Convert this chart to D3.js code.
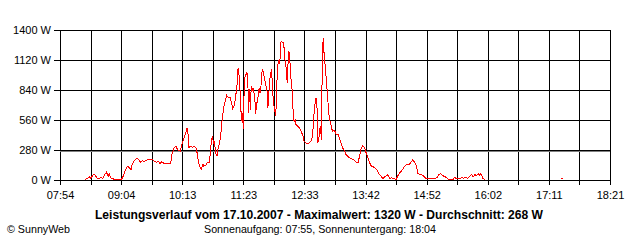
<!DOCTYPE html>
<html>
<head>
<meta charset="utf-8">
<script src="https://cdn.jsdelivr.net/npm/d3@7"></script>
<style>
    body { margin: 0; background: #fff; }
    svg { display: block; font-family: Arial, "Liberation Sans", sans-serif; }
</style>
</head>
<body>
<div class="svg-target"></div>
<script>
// Readings (time of day, watts), null breaks the line
const times = [
    '08:23','08:25','08:28','08:29','08:32','08:34','08:36','08:38','08:41','08:43','08:45','08:47','08:49','08:50','08:52','08:54','08:56',
    '09:04','09:06','09:08','09:11','09:13','09:15','09:16','09:18','09:21','09:23','09:26','09:28','09:30','09:32','09:36','09:39','09:41',
    '09:44','09:46','09:48','09:50','09:53','09:56','10:00','10:02','10:04','10:06','10:08','10:11','10:13','10:16','10:18','10:19','10:20',
    '10:21','10:23','10:25','10:27','10:29','10:30','10:31','10:33','10:35','10:37','10:38','10:40','10:42','10:44','10:45','10:46','10:47',
    '10:48','10:49','10:50','10:51','10:52','10:53','10:54','10:56','10:58','10:59','11:01','11:03','11:04','11:06','11:08','11:10','11:11',
    '11:13','11:15','11:16','11:17','11:18','11:19','11:20','11:21','11:22','11:23','11:24','11:25','11:27','11:28','11:29','11:30','11:31',
    '11:32','11:33','11:34','11:36','11:37','11:38','11:39','11:40','11:41','11:42','11:43','11:44','11:45','11:47','11:48','11:50','11:51',
    '11:52','11:53','11:54','11:55','11:56','11:57','11:58','11:59','12:00','12:01','12:02','12:03','12:04','12:05','12:06','12:08','12:09',
    '12:10','12:12','12:13','12:14','12:15','12:16','12:17','12:18','12:19','12:20','12:21','12:22','12:23','12:25','12:27','12:29','12:31',
    '12:32','12:34','12:36','12:38','12:40','12:42','12:43','12:45','12:46','12:47','12:48','12:49','12:50','12:51','12:52','12:53','12:54',
    '12:55','12:56','12:57','12:58','12:59','13:00','13:01','13:02','13:04','13:05','13:07','13:09','13:11','13:13','13:15','13:16','13:18',
    '13:20','13:22','13:24','13:26','13:28','13:30','13:32','13:34','13:35','13:37','13:39','13:41','13:43','13:45','13:47','13:49','13:51',
    '13:53','13:55','13:56','13:58','14:00','14:02','14:04','14:06','14:08','14:10','14:12','14:13','14:15','14:17','14:19','14:21','14:23',
    '14:25','14:27','14:29','14:31','14:33','14:35','14:36','14:38','14:40','14:42','14:44','14:46','14:48','14:50','14:52','14:53','14:55',
    '14:59','15:02','15:04','15:06','15:08','15:10','15:13','15:15','15:16','15:18','15:22','15:24','15:26','15:28','15:30','15:32','15:34',
    '15:35','15:37','15:39','15:41','15:43','15:45','15:47','15:49','15:51','15:52','15:53','15:55','15:56','15:58',
    '16:30','17:25','17:27'
];
const watts = [
    0,10,25,10,44,44,15,10,20,10,50,68,30,55,15,10,0,
    0,30,80,124,110,93,130,171,193,193,161,175,170,180,187,187,175,
    160,170,149,165,149,149,149,249,296,311,280,264,327,400,451,482,420,
    300,311,300,311,295,264,202,124,93,140,124,130,156,162,218,311,373,
    404,330,360,280,234,218,280,342,467,576,684,747,784,762,762,700,662,
    700,824,902,1042,980,880,684,544,622,467,871,964,996,964,622,840,653,
    871,824,856,778,607,700,731,778,856,809,856,996,1027,949,902,824,669,
    778,933,964,1027,918,747,684,638,591,856,1042,1104,1089,1135,1291,1276,1281,
    1151,1027,902,1089,1198,1120,964,902,793,576,544,560,513,498,482,451,404,
    360,342,336,342,358,404,560,731,762,669,342,373,467,498,373,1089,1320,
    1182,1089,1000,887,778,669,576,544,467,451,458,420,420,373,327,295,274,
    233,218,202,193,187,178,156,156,202,280,317,300,249,202,156,124,118,
    110,93,78,50,31,6,25,37,44,12,16,10,10,0,31,62,78,
    100,124,140,140,146,171,187,162,131,56,47,47,37,16,10,6,6,
    6,6,22,47,56,37,25,16,6,0,0,22,6,12,12,16,12,
    16,16,12,31,47,25,44,37,56,37,56,37,10,0,
    null,8,8
];

const yTicks = [0, 280, 560, 840, 1120, 1400];
const xLabels = ['07:54', '09:04', '10:13', '11:23', '12:33', '13:42', '14:52', '16:02', '17:11', '18:21'];

const maxWatt = 1320;
const avgWatt = 268;
const dayLabel = '17.10.2007';
const sunrise = '07:55';
const sunset = '18:04';

const w = 640;
const h = 240;
const plot = {l: 60, r: 610, t: 30, b: 180};

const toMin = s => +s.slice(0, 2) * 60 + +s.slice(3, 5);

const data = times.map((t, i) => ({t: toMin(t), w: watts[i]}));

const svg = d3.select('.svg-target')
    .append('svg')
    .attr('width', w)
    .attr('height', h);

const start = toMin(xLabels[0]);
const end = toMin(xLabels[xLabels.length - 1]);

const xScale = d3.scaleLinear()
    .domain([start, end])
    .range([plot.l, plot.r]);

const yScale = d3.scaleLinear()
    .domain([0, 1400])
    .range([plot.b, plot.t]);

// grid: one line per label and one between each pair
const gridTimes = d3.range((xLabels.length - 1) * 2 + 1)
    .map(i => start + i * (end - start) / ((xLabels.length - 1) * 2));

// x axis
const xAxis = d3.axisBottom(xScale)
    .tickValues(gridTimes)
    .tickSizeInner(-(plot.b + 5 - plot.t))
    .tickSizeOuter(0)
    .tickPadding(6)
    .tickFormat((d, i) => i % 2 === 0 ? xLabels[i / 2] : '');
const gx = svg.append('g')
    .attr('transform', `translate(0, ${plot.b + 5})`)
    .call(xAxis);

// y axis
const yAxis = d3.axisLeft(yScale)
    .tickValues(yTicks)
    .tickSizeInner(-(plot.r - plot.l + 6))
    .tickSizeOuter(0)
    .tickPadding(3)
    .tickFormat(d => d + ' W');
const gy = svg.append('g')
    .attr('transform', `translate(${plot.l - 6}, 0)`)
    .call(yAxis);

[gx, gy].forEach(g => {
    g.select('.domain').remove();
    g.selectAll('line').attr('stroke', '#000').attr('shape-rendering', 'crispEdges');
    g.selectAll('text').attr('fill', '#000').attr('font-size', 11)
        .attr('font-family', 'Arial, "Liberation Sans", sans-serif');
});

// average line
const avgY = Math.round(yScale(avgWatt)) + 0.5;
svg.append('line')
    .attr('x1', plot.l)
    .attr('x2', plot.r)
    .attr('y1', avgY)
    .attr('y2', avgY)
    .attr('stroke', '#808080')
    .attr('shape-rendering', 'crispEdges');

// power curve
const line = d3.line()
    .defined(d => d.w !== null)
    .x(d => xScale(d.t))
    .y(d => yScale(d.w) - 0.5);
svg.append('path')
    .datum(data)
    .attr('d', line)
    .attr('fill', 'none')
    .attr('stroke', '#ff0000')
    .attr('stroke-width', 1)
    .attr('shape-rendering', 'crispEdges');

// captions
svg.append('text')
    .attr('x', 319)
    .attr('y', 219)
    .attr('text-anchor', 'middle')
    .attr('font-size', 12)
    .attr('font-weight', 'bold')
    .attr('textLength', 448)
    .attr('lengthAdjust', 'spacingAndGlyphs')
    .text(`Leistungsverlauf vom ${dayLabel} - Maximalwert: ${maxWatt} W - Durchschnitt: ${avgWatt} W`);

svg.append('text')
    .attr('x', 320)
    .attr('y', 233)
    .attr('text-anchor', 'middle')
    .attr('font-size', 11)
    .attr('textLength', 232)
    .attr('lengthAdjust', 'spacingAndGlyphs')
    .text(`Sonnenaufgang: ${sunrise}, Sonnenuntergang: ${sunset}`);

svg.append('text')
    .attr('x', 7)
    .attr('y', 233)
    .attr('font-size', 11)
    .attr('textLength', 63)
    .attr('lengthAdjust', 'spacingAndGlyphs')
    .text('© SunnyWeb');
</script>
</body>
</html>
